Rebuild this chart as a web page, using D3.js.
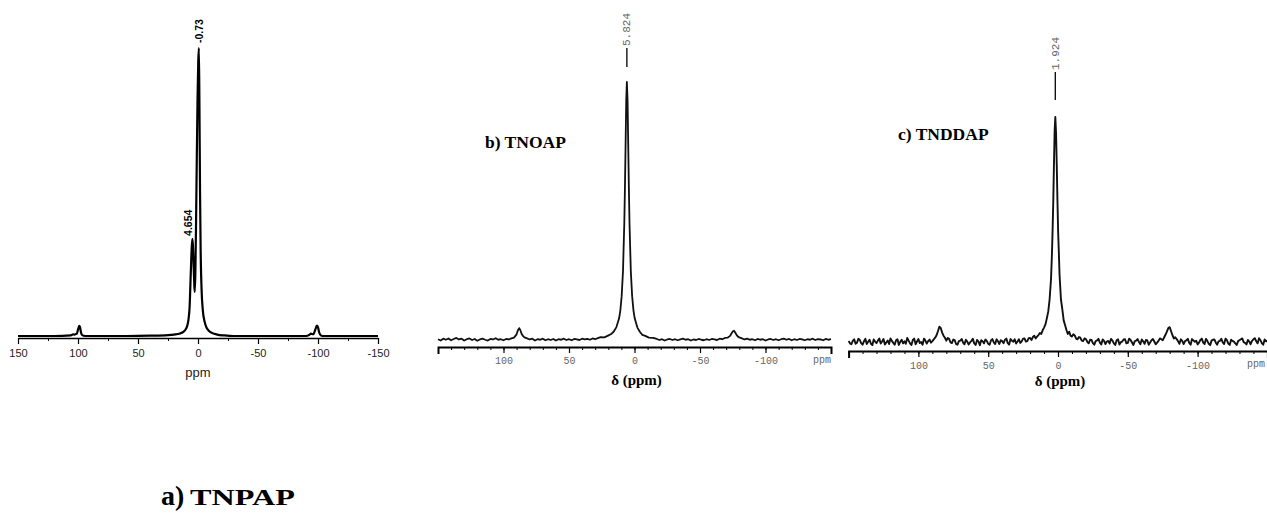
<!DOCTYPE html>
<html>
<head>
<meta charset="utf-8">
<script src="https://cdn.jsdelivr.net/npm/d3@7"></script>
<style>
  body { margin: 0; background: #fff; }
  svg { display: block; }
</style>
</head>
<body>
<svg id="chart"></svg>
<script>
// spectra: [ppm, intensity in % of main peak]
var specA = [
  [150,0],[120,0],[106,0.2],[104,0.6],[103,0.5],[101,0.8],[100,2.2],[99,3.5],[98.3,3.0],[97.5,1.2],[96.5,0.3],[94,0],
  [60,0],[40,0.1],[25,0.3],[20,0.5],[15,0.9],[12,1.5],[10,2.5],[9,3.5],[8,5.5],[7,10],[6,22],[5.2,31],[4.654,33.7],
  [4.2,31],[3.6,24],[3.1,18],[2.7,15.3],[2.2,22],[1.6,40],[1.0,62],[0.4,82],[-0.2,95],[-0.73,100],[-1.2,80],[-1.7,50],
  [-2.2,30],[-3,16],[-4,9],[-5.5,5],[-7,3],[-9,1.8],[-12,1],[-16,0.5],[-22,0.2],[-30,0],[-90,0],[-93,0.5],[-94,0.8],
  [-96,0.6],[-98,2.5],[-99,3.6],[-100,3.0],[-101,1.2],[-102.5,0.2],[-105,0],[-150,0]
]

var specB = [
  [150,0.3],[148,-0.2],[146,0.5],[144,0.1],[142,0.6],[140,-0.1],[138,0.4],[136,0.8],[134,0.2],[132,0.5],[130,-0.2],
  [128,0.3],[126,0.6],[124,0.0],[122,0.4],[120,-0.3],[118,0.2],[116,0.5],[114,0.1],[112,-0.2],[110,0.4],[108,0.2],
  [106,0.7],[104,0.1],[102,0.3],[100,-0.1],[98,0.4],[96,0.2],[94,0.6],[92,0.9],[90,2.2],[89,3.8],[88,4.6],[87,3.6],
  [86,2.2],[85,1.5],[84,1.0],[82,0.6],[80,0.2],[78,0.5],[76,-0.2],[74,0.3],[72,0.1],[70,0.5],[68,-0.1],[66,0.3],
  [64,0.0],[62,0.4],[60,-0.2],[58,0.3],[56,0.1],[54,0.5],[52,0.0],[50,0.3],[48,-0.1],[46,0.4],[44,0.2],[42,0.0],
  [40,0.5],[38,0.2],[36,0.4],[34,0.1],[32,0.6],[30,0.3],[28,0.7],[25.8,1.1],[23,1.0],[19.8,1.8],[17.8,2.3],
  [15.8,3.3],[13.8,5.0],[11.8,8.3],[10.8,11.5],[9.8,17],[8.8,26.5],[7.8,45],[7.3,59],[6.8,76],[6.3,93],[5.824,100],
  [5.3,93],[4.8,76],[4.3,59],[3.8,45],[2.8,26.5],[1.8,17],[0.8,11.5],[-0.2,8.3],[-2.2,4.8],[-4.2,3.1],[-6,2.0],
  [-8.2,1.6],[-11,0.9],[-14.2,0.8],[-17,0.4],[-19,0.0],[-21,0.3],[-23,-0.2],[-25,0.2],[-27,0.4],[-29,0.0],[-31,0.3],
  [-33,-0.1],[-35,0.2],[-37,0.5],[-39,0.1],[-41,0.3],[-43,-0.2],[-45,0.2],[-47,0.0],[-49,0.4],[-51,0.1],[-53,-0.1],
  [-55,0.3],[-57,0.0],[-59,0.4],[-61,0.2],[-63,0.0],[-65,0.5],[-67,0.3],[-69,0.8],[-71,0.9],[-73,1.6],[-74,2.5],
  [-75,3.3],[-76,3.6],[-77,2.8],[-78,1.9],[-79,1.3],[-80,1.0],[-82,0.6],[-84,0.2],[-86,0.5],[-88,0.1],[-90,0.3],
  [-92,-0.1],[-94,0.4],[-96,0.1],[-98,0.3],[-100,-0.2],[-102,0.2],[-104,0.4],[-106,0.0],[-108,0.3],[-110,-0.1],
  [-112,0.3],[-114,0.5],[-116,0.1],[-118,0.4],[-120,-0.1],[-122,0.3],[-124,0.0],[-126,0.4],[-128,0.2],[-130,-0.1],
  [-132,0.3],[-134,0.1],[-136,0.5],[-138,0.0],[-140,0.3],[-142,0.2],[-144,-0.1],[-146,0.4],[-148,0.1],[-150,0.3]
]

var specC = [
  [150,0.4],[149,-0.6],[148,-1.0],[147,0.5],[146,1.2],[145,-0.8],[144,-0.3],[143,1.4],[142,0.9],[141,-0.5],[140,-1.2],
  [139,0.3],[138,1.4],[137,-0.9],[136,0.1],[135,1.0],[134,-0.8],[133,-1.4],[132,1.1],[131,0.2],[130,-0.5],[129,0.6],
  [128,1.5],[127,-0.7],[126,0.2],[125,1.3],[124,-1.1],[123,-0.2],[122,0.7],[121,-0.9],[120,1.6],[119,0.5],[118,-0.4],
  [117,-1.2],[116,0.8],[115,1.2],[114,-1.3],[113,0.1],[112,1.0],[111,-0.6],[110,0.3],[109,-0.8],[108,1.8],[107,0.6],
  [106,-0.6],[105,-1.3],[104,0.9],[103,1.5],[102,-1.0],[101,0.2],[100,1.3],[99,-0.5],[98,0.0],[97,-1.2],[96,1.5],
  [95,0.6],[94,-0.7],[93,0.4],[92,1.1],[91,-0.3],[90,0.4],[89,1.2],[88,1.9],[87,3.0],[86,4.8],[85,6.8],[84,6.2],
  [83,4.2],[82,2.8],[81,1.9],[80,0.6],[79,1.8],[78,1.4],[77,-0.2],[76,-0.5],[75,1.1],[74,0.8],[73,-0.9],[72,-1.2],
  [71,0.4],[70,0.6],[69,1.3],[68,-0.3],[67,-1.0],[66,1.0],[65,0.2],[64,-1.1],[63,-0.2],[62,0.5],[61,1.4],[60,-0.6],
  [59,-1.3],[58,0.9],[57,0.3],[56,-1.4],[55,0.8],[54,0.3],[53,-0.6],[52,1.1],[51,0.5],[50,-0.8],[49,-1.2],[48,0.7],
  [47,1.3],[46,-0.2],[45,-0.9],[44,1.2],[43,0.3],[42,-0.9],[41,0.8],[40,0.4],[39,-0.5],[38,1.0],[37,1.5],[36,-0.5],
  [35,-1.1],[34,1.3],[33,0.6],[32,0.1],[31,1.2],[30,-0.7],[29,0.2],[28,1.2],[27,-0.4],[26,0.3],[25,1.5],[24,1.6],
  [23,0.2],[22,0.4],[21,1.7],[20,1.8],[19,0.9],[18,2.2],[17,2.8],[16,1.6],[15,2.4],[14,3.1],[13,4.0],[12,3.6],
  [11,5.2],[10,6.4],[9,7.8],[8,10.5],[7,13.5],[6,19],[5,28],[4.4,38],[3.9,49],[3.4,62],[2.9,79],[2.4,94],[1.924,100],
  [1.4,93],[0.9,79],[0.4,63],[-0.1,49],[-0.6,40],[-1.1,30],[-2.1,19],[-3.1,14.5],[-4.1,9.5],[-5.1,7.4],[-6.1,5.2],
  [-7,3.6],[-8,4.6],[-9,2.8],[-10,2.4],[-11,3.4],[-12,2.9],[-13,1.5],[-14,1.2],[-15,2.2],[-16,1.9],[-17,0.6],
  [-18,0.4],[-19,1.6],[-20,1.3],[-21,0.1],[-22,-0.6],[-23,1.0],[-24,0.9],[-25,-0.5],[-26,-1.2],[-27,0.4],[-28,0.7],
  [-29,1.4],[-30,-0.3],[-31,-1.1],[-32,1.1],[-33,0.5],[-34,-0.9],[-35,0.2],[-36,0.5],[-37,-0.7],[-38,1.4],[-39,0.6],
  [-40,-0.6],[-41,-1.3],[-42,0.8],[-43,1.2],[-44,-1.1],[-45,-0.1],[-46,0.2],[-47,1.1],[-48,1.2],[-49,-0.6],[-50,-0.4],
  [-51,1.5],[-52,0.9],[-53,-0.2],[-54,-1.3],[-55,0.4],[-56,0.6],[-57,1.3],[-58,0.0],[-59,-1.0],[-60,1.1],[-61,0.3],
  [-62,-0.8],[-63,0.9],[-64,0.7],[-65,-1.2],[-66,-0.2],[-67,0.8],[-68,1.3],[-69,0.2],[-70,-1.0],[-71,-0.3],[-72,0.5],
  [-73,1.6],[-74,1.2],[-75,0.8],[-76,2.0],[-77,3.2],[-78,4.6],[-79,6.2],[-80,6.6],[-81,4.8],[-82,3.0],[-83,1.6],
  [-84,2.1],[-85,1.3],[-86,0.3],[-87,-0.8],[-88,1.2],[-89,0.5],[-90,-0.9],[-91,0.4],[-92,0.8],[-93,1.4],[-94,-0.4],
  [-95,-1.2],[-96,1.3],[-97,0.7],[-98,0.1],[-99,0.6],[-100,-1.1],[-101,-0.3],[-102,0.9],[-103,1.5],[-104,-0.3],
  [-105,-0.9],[-106,1.4],[-107,0.4],[-108,-0.8],[-109,-1.4],[-110,0.6],[-111,1.0],[-112,1.1],[-113,-0.2],[-114,-1.2],
  [-115,0.3],[-116,0.5],[-117,1.4],[-118,-0.2],[-119,-0.9],[-120,1.5],[-121,0.8],[-122,-0.7],[-123,-1.3],[-124,1.0],
  [-125,0.5],[-126,0.2],[-127,-0.6],[-128,-1.3],[-129,0.4],[-130,0.8],[-131,1.2],[-132,1.6],[-133,-0.1],[-134,-0.4],
  [-135,-1.1],[-136,0.9],[-137,0.2],[-138,-1.0],[-139,0.5],[-140,1.2],[-141,1.7],[-142,0.3],[-143,-0.6],[-144,1.7],
  [-145,0.8],[-146,-0.5],[-147,-1.2],[-148,1.1],[-149,0.3],[-150,0.6]
]

var majorTicks = [150, 100, 50, 0, -50, -100, -150]
var minorTicksA = [125, 75, 25, -25, -75, -125]
var labelTicksBC = [100, 50, 0, -50, -100]
var minorTicksBC = d3.range(150, -151, -10)

var peakA = [{ppm: -0.73, val: 100, text: "-0.73"}, {ppm: 4.654, val: 33.7, text: "4.654"}]
var peakB = {ppm: 5.824, text: "5.824"}
var peakC = {ppm: 1.924, text: "1.924"}

var titles = {b: "b) TNOAP", c: "c) TNDDAP"}

var W = 1267, H = 514
var svg = d3.select("#chart").attr("width", W).attr("height", H)

var serif = "'Liberation Serif','Times New Roman',serif"
var sans = "'Liberation Sans',Arial,sans-serif"
var mono = "'Liberation Mono','Courier New',monospace"

var fmt = function(d){ return String(d) }

//---------- panel a
var xa = d3.scaleLinear().domain([150, -150]).range([18, 378])
var ya = d3.scaleLinear().domain([0, 100]).range([336, 48])

var ga = svg.append("g").attr("id", "panelA")

ga.append("path")
  .datum(specA)
  .attr("fill", "none")
  .attr("stroke", "#000")
  .attr("stroke-width", 2.2)
  .attr("stroke-linejoin", "round")
  .attr("d", d3.line()
     .x(function(d){ return xa(d[0]) })
     .y(function(d){ return ya(d[1]) })
     .curve(d3.curveMonotoneX))

var axA = ga.append("g").attr("transform", "translate(0,338)")
  .call(d3.axisBottom(xa).tickValues(majorTicks).tickSize(6).tickSizeOuter(0).tickFormat(fmt))
axA.select(".domain").attr("stroke-width", 1.6)
axA.selectAll(".tick line").attr("stroke-width", 1.2)
axA.selectAll(".tick text").attr("font-family", sans).attr("font-size", 11).attr("fill", "#222").attr("dy", "0.9em")

ga.append("g").attr("transform", "translate(0,338)")
  .call(d3.axisBottom(xa).tickValues(minorTicksA).tickSize(3).tickFormat(""))
  .select(".domain").remove()

ga.append("text").attr("x", xa(0)).attr("y", 377)
  .attr("text-anchor", "middle").attr("font-family", sans).attr("font-size", 13).attr("fill", "#222")
  .text("ppm")

ga.selectAll(".peaklab").data(peakA).enter().append("text")
  .attr("class", "peaklab")
  .attr("transform", function(d, i){
      var y = ya(d.val) - (i == 0 ? 5 : 3)
      var x = xa(d.ppm) + (i == 0 ? 4 : 0)
      return "translate(" + x + "," + y + ") rotate(-90)" })
  .attr("font-family", sans).attr("font-weight", "bold").attr("font-size", 10.5)
  .text(function(d){ return d.text })

svg.append("text").attr("x", 161).attr("y", 505).attr("font-family", serif).attr("font-weight", "bold")
  .attr("font-size", 28).text("a)")
svg.append("text").attr("x", 190).attr("y", 505).attr("font-family", serif).attr("font-weight", "bold")
  .attr("font-size", 23).attr("textLength", 105).attr("lengthAdjust", "spacingAndGlyphs").text("TNPAP")

//---------- panels b and c (same style)
var drawPanel = function(id, spec, peak, title, xr, yr, axisY, opts)
{
    var x = d3.scaleLinear().domain([150, -150]).range(xr)
    var y = d3.scaleLinear().domain([0, 100]).range(yr)
    var g = svg.append("g").attr("id", id)

    g.append("path")
      .datum(spec)
      .attr("fill", "none")
      .attr("stroke", "#111")
      .attr("stroke-width", opts.lw)
      .attr("stroke-linejoin", "round")
      .attr("d", d3.line().x(function(d){ return x(d[0]) }).y(function(d){ return y(d[1]) }))

    var ax = g.append("g").attr("transform", "translate(0," + axisY + ")")
      .call(d3.axisBottom(x).tickValues(labelTicksBC).tickSize(6).tickSizeOuter(7).tickFormat(fmt))
    ax.select(".domain").attr("stroke-width", 2)
    ax.selectAll(".tick line").attr("stroke-width", 1.2)
    ax.selectAll(".tick text").attr("font-family", mono).attr("font-size", 10).attr("fill", "#666").attr("dy", opts.tdy)

    g.append("g").attr("transform", "translate(0," + axisY + ")")
      .call(d3.axisBottom(x).tickValues(minorTicksBC).tickSize(3).tickFormat(""))
      .select(".domain").remove()

    g.append("text").attr("x", opts.ppmX).attr("y", axisY + 16)
      .attr("font-family", mono).attr("font-size", 10).attr("fill", "#666").text("ppm")

    g.append("text").attr("x", x(0) + 2).attr("y", opts.dY)
      .attr("text-anchor", "middle").attr("font-family", serif).attr("font-weight", "bold").attr("font-size", 15)
      .text("\u03b4 (ppm)")

    g.append("text").attr("x", opts.tX).attr("y", opts.tY)
      .attr("font-family", serif).attr("font-weight", "bold").attr("font-size", 17.5)
      .text(title)

    // peak marker and label
    var px = x(peak.ppm)
    g.append("line").attr("x1", px).attr("x2", px)
      .attr("y1", y(100) - opts.mark[0]).attr("y2", y(100) - opts.mark[1])
      .attr("stroke", "#111").attr("stroke-width", 1.4)
    g.append("text")
      .attr("transform", "translate(" + (px + 3.5) + "," + (y(100) - opts.mark[0] - 2) + ") rotate(-90)")
      .attr("font-family", mono).attr("font-size", 11).attr("fill", "#666")
      .text(peak.text)
}

drawPanel("panelB", specB, peakB, titles.b, [438, 831], [340, 82], 347,
    {lw: 1.8, tdy: "0.75em", ppmX: 813, dY: 385, tX: 485, tY: 148, mark: [34, 15]})
drawPanel("panelC", specC, peakC, titles.c, [848.6, 1267.4], [342, 117], 351,
    {lw: 1.9, tdy: "0.85em", ppmX: 1247, dY: 386, tX: 898, tY: 140, mark: [45, 17]})
</script>
</body>
</html>
